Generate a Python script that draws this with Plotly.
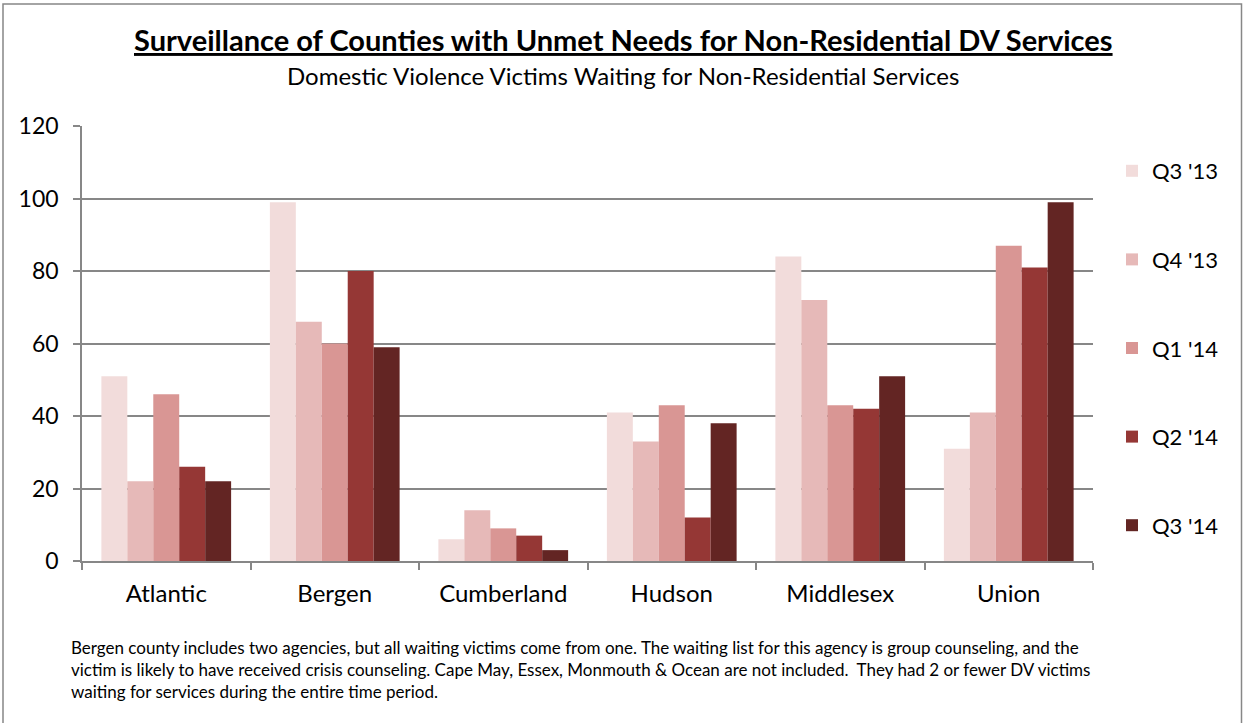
import plotly.graph_objects as go

# data
counties = ["Atlantic", "Bergen", "Cumberland", "Hudson", "Middlesex", "Union"]
quarters = ["Q3 '13", "Q4 '13", "Q1 '14", "Q2 '14", "Q3 '14"]
q3_13 = [51, 99, 6, 41, 84, 31]
q4_13 = [22, 66, 14, 33, 72, 41]
q1_14 = [46, 60, 9, 43, 43, 87]
q2_14 = [26, 80, 7, 12, 42, 81]
q3_14 = [22, 59, 3, 38, 51, 99]
colors = ["#F2DCDB", "#E6B9B8", "#D99694", "#953735", "#632523"]

series = [q3_13, q4_13, q1_14, q2_14, q3_14]

FONT = "Lato"
W, H = 1244, 723
L, R, T, B = 82, 151, 126, 162
pw, ph = W - L - R, H - T - B

fig = go.Figure()
for name, vals, col in zip(quarters, series, colors):
    fig.add_trace(go.Bar(x=counties, y=vals, name=name, marker_color=col,
                         marker_line_width=0, legendgroup=name))

note = ("Bergen county includes two agencies, but all waiting victims come from one. The waiting list for this agency is group counseling, and the<br>"
        "victim is likely to have received crisis counseling. Cape May, Essex, Monmouth & Ocean are not included.  They had 2 or fewer DV victims<br>"
        "waiting for services during the entire time period.")

fig.update_layout(
    width=W, height=H,
    margin=dict(l=L, r=R, t=T, b=B),
    paper_bgcolor="white", plot_bgcolor="white",
    font=dict(family=FONT, color="black"),
    barmode="group", bargap=0.23, bargroupgap=0,
    showlegend=True,
    legend=dict(x=(1112 - L) / pw, y=(561 - 150) / ph, xanchor="left", yanchor="top",
                font=dict(size=22, family=FONT), tracegroupgap=57, bgcolor="rgba(0,0,0,0)"),
    xaxis=dict(showline=True, linecolor="#878787", linewidth=1.5, ticks="outside",
               tickson="boundaries", ticklen=7, tickcolor="#878787", tickwidth=1.5,
               tickfont=dict(size=24), ticklabelstandoff=10, showgrid=False),
    yaxis=dict(range=[0, 120], dtick=20, showline=True, linecolor="#878787", linewidth=1.5,
               ticks="outside", ticklen=7, tickcolor="#878787", tickwidth=1.5,
               showgrid=True, gridcolor="#878787", gridwidth=1.5,
               tickfont=dict(size=23), ticklabelstandoff=10, zeroline=False),
    shapes=[dict(type="rect", xref="paper", yref="paper",
                 x0=(3 - L) / pw, x1=(1241.5 - L) / pw,
                 y0=(561 - 730) / ph, y1=(561 - 4) / ph,
                 line=dict(color="#878787", width=1.5), layer="below")],
    annotations=[
        dict(text="<b><u>Surveillance of Counties with Unmet Needs for Non-Residential DV Services</u></b>",
             xref="paper", yref="paper", x=(623 - L) / pw, y=(561 - 40) / ph,
             xanchor="center", yanchor="middle", showarrow=False, font=dict(size=29)),
        dict(text="Domestic Violence Victims Waiting for Non-Residential Services",
             xref="paper", yref="paper", x=(623 - L) / pw, y=(561 - 75) / ph,
             xanchor="center", yanchor="middle", showarrow=False, font=dict(size=24)),
        dict(text=note, xref="paper", yref="paper", x=(69 - L) / pw, y=(561 - 635) / ph,
             xanchor="left", yanchor="top", align="left", showarrow=False,
             font=dict(size=17)),
    ],
)

fig.write_html("out.html", config={"displayModeBar": False},
               post_script="document.body.style.margin='0px';")
